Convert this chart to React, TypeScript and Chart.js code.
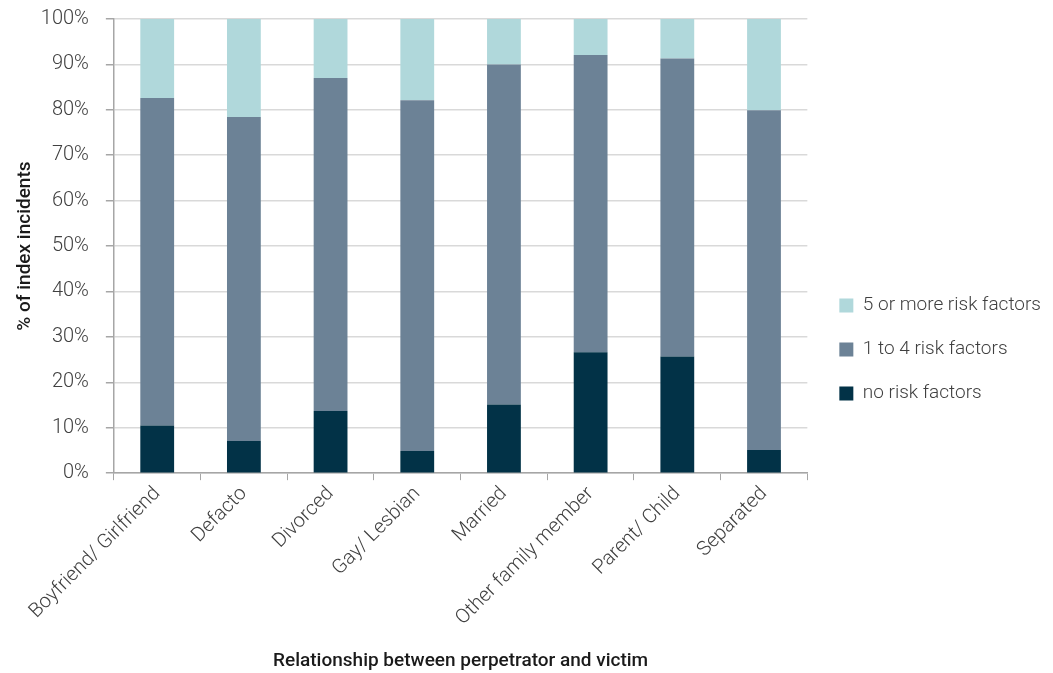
import React, { useEffect, useRef } from "react";
import { Chart, registerables } from "chart.js";

Chart.register(...registerables);

const categories = [
  "Boyfriend/ Girlfriend",
  "Defacto",
  "Divorced",
  "Gay/ Lesbian",
  "Married",
  "Other family member",
  "Parent/ Child",
  "Separated",
];
const noRisk = [10.5, 7.1, 13.7, 4.9, 15.1, 26.6, 25.7, 5.1];
const oneToFour = [72.1, 71.3, 73.3, 77.2, 74.9, 65.5, 65.6, 74.8];
const fiveOrMore = [17.4, 21.6, 13.0, 17.9, 10.0, 7.9, 8.7, 20.1];
const yTicks = [0, 10, 20, 30, 40, 50, 60, 70, 80, 90, 100];

const FONT = "Roboto, 'Liberation Sans', sans-serif";

export default function App() {
  const ref = useRef<HTMLCanvasElement | null>(null);
  useEffect(() => {
    document.body.style.margin = "0";
    if (!ref.current) return;
    const chart = new Chart(ref.current, {
      type: "bar",
      data: {
        labels: categories,
        datasets: [
          { label: "no risk factors", data: noRisk, backgroundColor: "#023247" },
          { label: "1 to 4 risk factors", data: oneToFour, backgroundColor: "#6C8296" },
          { label: "5 or more risk factors", data: fiveOrMore, backgroundColor: "#B0D8DB" },
        ],
      },
      options: {
        animation: false,
        responsive: false,
        maintainAspectRatio: false,
        layout: { padding: { left: 7, right: 2, top: 19, bottom: 0 } },
        datasets: { bar: { barPercentage: 0.39, categoryPercentage: 1.0 } },
        plugins: {
          tooltip: { enabled: false },
          legend: {
            position: "right",
            reverse: true,
            title: { display: true, text: "", font: { size: 5 }, padding: { top: 1, bottom: 0 } },
            labels: {
              boxWidth: 14,
              boxHeight: 14,
              padding: 25,
              color: "#404040",
              font: { family: FONT, size: 19, weight: "300" as any },
            },
          },
        },
        scales: {
          x: {
            stacked: true,
            grid: {
              offset: true,
              drawOnChartArea: false,
              drawTicks: true,
              tickLength: 7,
              color: "#a6a6a6",
            },
            border: { color: "#a6a6a6", width: 1.5 },
            ticks: {
              minRotation: 45,
              maxRotation: 45,
              color: "#404040",
              font: { family: FONT, size: 20, weight: "300" as any },
              padding: 2,
            },
            title: {
              display: true,
              text: "Relationship between perpetrator and victim",
              color: "#1a1a1a",
              font: { family: FONT, size: 19, weight: "500" as any },
              padding: { top: 18, bottom: 0 },
            },
          },
          y: {
            stacked: true,
            min: 0,
            max: 100,
            afterBuildTicks: (axis: any) => {
              axis.ticks = yTicks.map((v) => ({ value: v }));
            },
            afterFit: (s: any) => {
              s.width -= 13;
            },
            grid: { color: "#d9d9d9", tickColor: "#a6a6a6", tickLength: 8, lineWidth: 1.5 },
            border: { color: "#a6a6a6", width: 1.5 },
            ticks: {
              color: "#404040",
              font: { family: FONT, size: 20, weight: "300" as any, lineHeight: 0.2 },
              padding: 17,
              callback: (v: any) => v + "%",
            },
            title: {
              display: true,
              text: "% of index incidents",
              color: "#1a1a1a",
              font: { family: FONT, size: 19, weight: "500" as any },
              padding: { top: 7, bottom: 0 },
            },
          },
          spacer: {
            axis: "y",
            position: "right",
            display: false,
            afterFit: (s: any) => {
              s.width = 7;
            },
          } as any,
        },
      },
    });
    return () => chart.destroy();
  }, []);
  return (
    <div style={{ width: 1053, height: 673 }}>
      <canvas ref={ref} width={1053} height={673} style={{ display: "block" }} />
    </div>
  );
}
